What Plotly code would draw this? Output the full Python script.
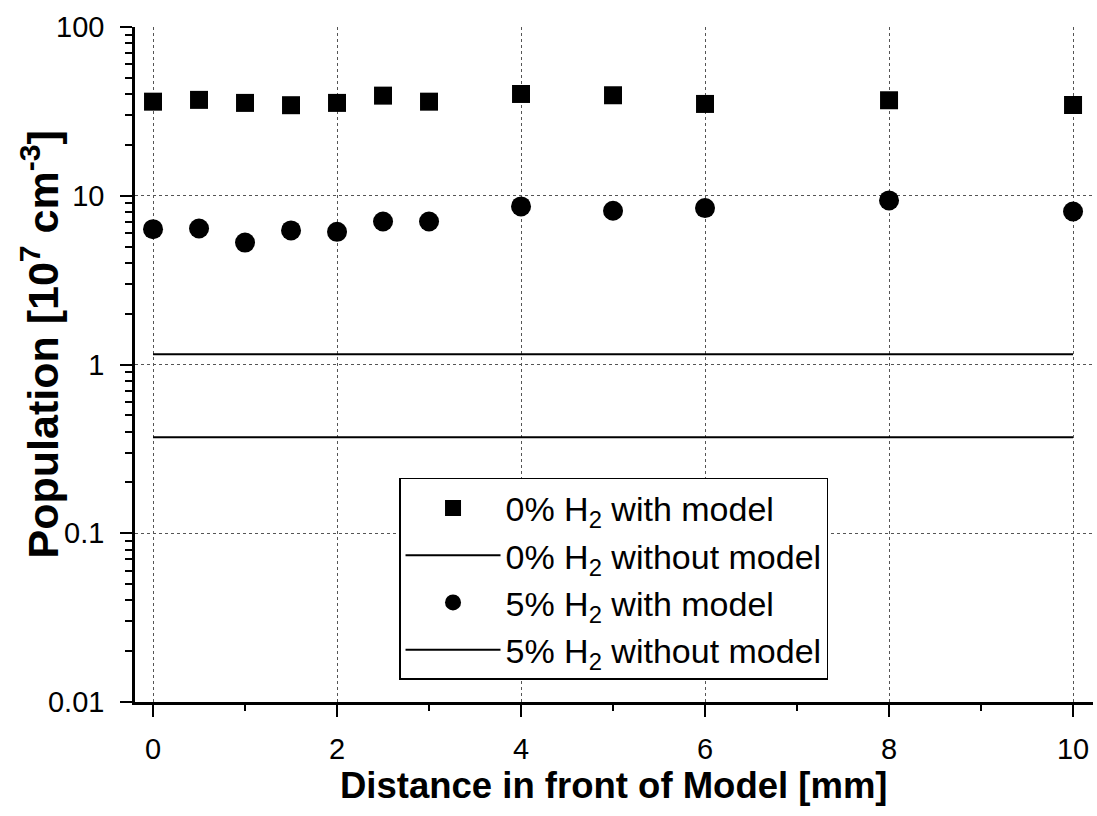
import plotly.graph_objects as go

# ---- data ----
distance = [0, 0.5, 1, 1.5, 2, 2.5, 3, 4, 5, 6, 8, 10]
h2_0_with_model = [36.1, 37.0, 35.5, 34.4, 35.5, 39.2, 36.1, 40.1, 39.4, 35.0, 36.8, 34.5]
h2_5_with_model = [6.34, 6.40, 5.28, 6.23, 6.11, 7.04, 7.04, 8.65, 8.15, 8.45, 9.38, 8.07]
h2_0_without_model = 1.15
h2_5_without_model = 0.37

line_x = [0, 10]

series_names = [
    "0% H<sub>2</sub> with model",
    "0% H<sub>2</sub> without model",
    "5% H<sub>2</sub> with model",
    "5% H<sub>2</sub> without model",
]

x_tickvals = [0, 2, 4, 6, 8, 10]
x_ticktext = ["0", "2", "4", "6", "8", "10"]
y_tickvals = [0.01, 0.1, 1, 10, 100]
y_ticktext = ["0.01", "0.1", "1", "10", "100"]

FONT = "Liberation Sans, Arial, sans-serif"

fig = go.Figure()

fig.add_trace(go.Scatter(
    x=distance, y=h2_0_with_model, mode="markers", name=series_names[0],
    legendgroup="a",
    marker=dict(symbol="square", size=18, color="black"),
))
fig.add_trace(go.Scatter(
    x=line_x, y=[h2_0_without_model] * len(line_x), mode="lines", name=series_names[1],
    legendgroup="b",
    line=dict(color="black", width=2),
))
fig.add_trace(go.Scatter(
    x=distance, y=h2_5_with_model, mode="markers", name=series_names[2],
    legendgroup="c",
    marker=dict(symbol="circle", size=20, color="black"),
))
fig.add_trace(go.Scatter(
    x=line_x, y=[h2_5_without_model] * len(line_x), mode="lines", name=series_names[3],
    legendgroup="d",
    line=dict(color="black", width=2),
))

fig.update_xaxes(
    range=[-0.196, 10.217],
    tickvals=x_tickvals, ticktext=x_ticktext,
    showline=True, linecolor="black", linewidth=2.5,
    ticks="outside", ticklen=12, tickwidth=2, tickcolor="black",
    ticklabelstandoff=7,
    minor=dict(ticks="outside", ticklen=6, tickwidth=2, tickcolor="black", dtick=1, tick0=0),
    showgrid=True, gridcolor="#555555", gridwidth=1, griddash="dot",
    zeroline=False,
    tickfont=dict(family=FONT, size=29, color="black"),
)
fig.update_yaxes(
    type="log", range=[-2, 2],
    tickvals=y_tickvals, ticktext=y_ticktext,
    showline=True, linecolor="black", linewidth=2.5,
    ticks="outside", ticklen=12, tickwidth=2, tickcolor="black",
    ticklabelstandoff=10,
    minor=dict(ticks="outside", ticklen=7, tickwidth=2, tickcolor="black", dtick="D1"),
    showgrid=True, gridcolor="#555555", gridwidth=1, griddash="dot",
    zeroline=False,
    tickfont=dict(family=FONT, size=29, color="black"),
)

fig.add_annotation(
    text="<b>Distance in front of Model [mm]</b>",
    xref="paper", yref="paper", x=0.5, y=-0.123,
    xanchor="center", yanchor="middle", showarrow=False,
    font=dict(family=FONT, size=36.5, color="black"),
)
fig.add_annotation(
    text="<b>Population [10<sup>7</sup> cm<sup>-3</sup>]</b>",
    xref="paper", yref="paper", x=-0.099, y=0.53,
    xanchor="center", yanchor="middle", showarrow=False, textangle=-90,
    font=dict(family=FONT, size=43, color="black"),
)

fig.update_layout(
    width=1097, height=816,
    margin=dict(l=135, r=4, t=27, b=114),
    paper_bgcolor="white", plot_bgcolor="white",
    showlegend=True,
    legend=dict(
        x=0.2756, y=0.3319, xanchor="left", yanchor="top",
        bordercolor="black", borderwidth=1.5, bgcolor="white",
        font=dict(family=FONT, size=34, color="black"),
        itemwidth=95, traceorder="grouped", tracegroupgap=0,
    ),
)

fig.write_html("out.html")
